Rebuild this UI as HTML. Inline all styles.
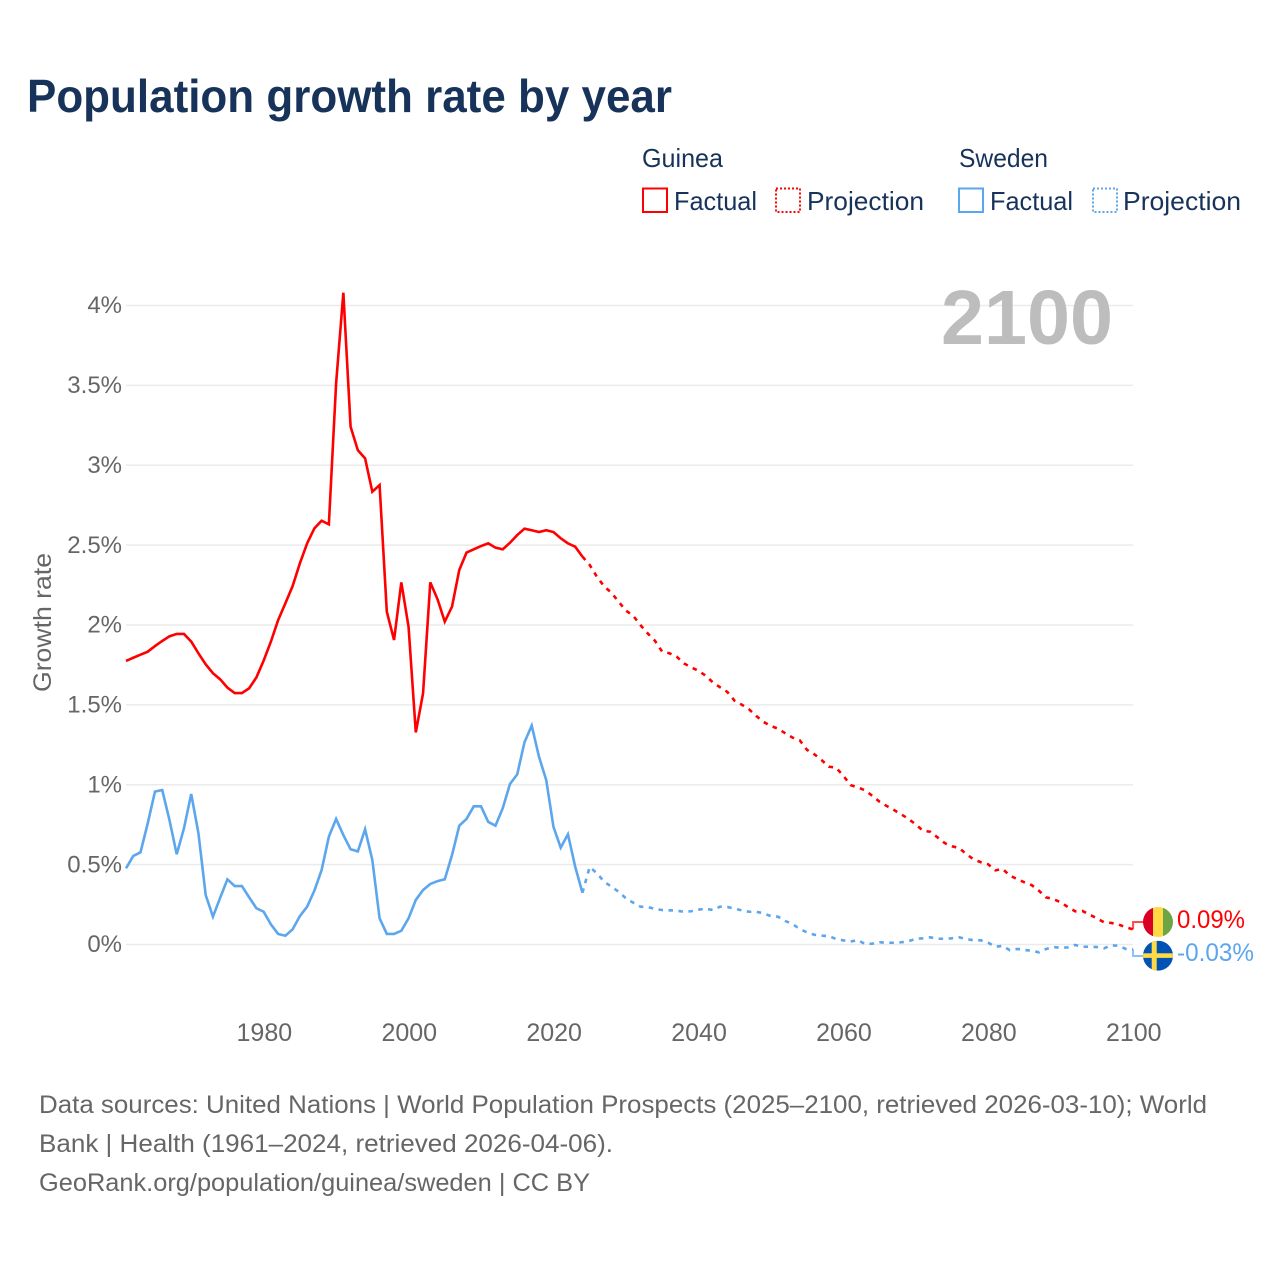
<!DOCTYPE html>
<html lang="en">
<head>
<meta charset="utf-8">
<title>Population growth rate by year</title>
<style>
  html, body { margin: 0; padding: 0; background: #fff; }
  svg { display: block; font-family: "Liberation Sans", sans-serif; }
</style>
</head>
<body>
<svg id="chart" width="1280" height="1280" viewBox="0 0 1280 1280" xmlns="http://www.w3.org/2000/svg">
  <rect width="1280" height="1280" fill="#fff"/>
  <text x="27" y="112" font-size="46" font-weight="700" fill="#18335a" textLength="645" lengthAdjust="spacingAndGlyphs">Population growth rate by year</text>

  <g font-size="26" fill="#18335a">
    <text x="642" y="167" textLength="81" lengthAdjust="spacingAndGlyphs">Guinea</text>
    <text x="959" y="167" textLength="89" lengthAdjust="spacingAndGlyphs">Sweden</text>
    <rect x="643" y="188.5" width="24" height="23.5" fill="none" stroke="#ff0000" stroke-width="2"/>
    <text x="674" y="210" textLength="83" lengthAdjust="spacingAndGlyphs">Factual</text>
    <rect x="776" y="188.5" width="24" height="23.5" fill="none" stroke="#ff0000" stroke-width="2" stroke-dasharray="2 2"/>
    <text x="807" y="210" textLength="117" lengthAdjust="spacingAndGlyphs">Projection</text>
    <rect x="959" y="188.5" width="24" height="23.5" fill="none" stroke="#5ca6ee" stroke-width="2"/>
    <text x="990" y="210" textLength="83" lengthAdjust="spacingAndGlyphs">Factual</text>
    <rect x="1093" y="188.5" width="24" height="23.5" fill="none" stroke="#5ca6ee" stroke-width="2" stroke-dasharray="2 2"/>
    <text x="1123" y="210" textLength="118" lengthAdjust="spacingAndGlyphs">Projection</text>
  </g>

  <g id="grid"></g>
  <g id="y-labels" font-size="24" fill="#666" text-anchor="end"></g>
  <g id="x-labels" font-size="25" fill="#666" text-anchor="middle"></g>

  <text x="941" y="344" font-size="77" font-weight="700" fill="#bdbdbd" textLength="172" lengthAdjust="spacingAndGlyphs">2100</text>
  <text transform="translate(51,692) rotate(-90)" font-size="25" fill="#666" textLength="139" lengthAdjust="spacingAndGlyphs">Growth rate</text>

  <g id="series"></g>

  <g>
    <clipPath id="clip-guinea"><circle cx="1158" cy="922" r="15"/></clipPath>
    <g clip-path="url(#clip-guinea)">
      <rect x="1143" y="907" width="10" height="30" fill="#d80027"/>
      <rect x="1153" y="907" width="10" height="30" fill="#ffda44"/>
      <rect x="1163" y="907" width="10" height="30" fill="#6da544"/>
    </g>
  </g>
  <g>
    <clipPath id="clip-sweden"><circle cx="1158" cy="955.7" r="15"/></clipPath>
    <g clip-path="url(#clip-sweden)">
      <rect x="1143" y="940.7" width="30" height="30" fill="#0052b4"/>
      <rect x="1143" y="953.3" width="30" height="4.6" fill="#ffda44"/>
      <rect x="1151.7" y="940.7" width="5" height="30" fill="#ffda44"/>
    </g>
  </g>
  <text x="1177" y="928" font-size="25" fill="#ff0000" textLength="68" lengthAdjust="spacingAndGlyphs">0.09%</text>
  <text x="1177" y="961" font-size="25" fill="#5ca6ee" textLength="77" lengthAdjust="spacingAndGlyphs">-0.03%</text>

  <g font-size="25" fill="#666">
    <text x="39" y="1113" textLength="1168" lengthAdjust="spacingAndGlyphs">Data sources: United Nations | World Population Prospects (2025–2100, retrieved 2026-03-10); World</text>
    <text x="39" y="1152" textLength="574" lengthAdjust="spacingAndGlyphs">Bank | Health (1961–2024, retrieved 2026-04-06).</text>
    <text x="39" y="1191" textLength="551" lengthAdjust="spacingAndGlyphs">GeoRank.org/population/guinea/sweden | CC BY</text>
  </g>
</svg>

<script>
var factualStartYear = 1961;
var projectionStartYear = 2024;
var yTicks = [0, 0.5, 1, 1.5, 2, 2.5, 3, 3.5, 4];
var yTickLabels = ["0%", "0.5%", "1%", "1.5%", "2%", "2.5%", "3%", "3.5%", "4%"];
var xTicks = [1980, 2000, 2020, 2040, 2060, 2080, 2100];
var xTickLabels = ["1980", "2000", "2020", "2040", "2060", "2080", "2100"];

var guineaFactual = [
  1.775, 1.795, 1.814, 1.833, 1.868, 1.900, 1.929, 1.944, 1.944, 1.896,
  1.823, 1.754, 1.698, 1.660, 1.608, 1.574, 1.574, 1.604, 1.672, 1.777,
  1.896, 2.031, 2.136, 2.244, 2.386, 2.511, 2.605, 2.653, 2.630, 3.513,
  4.080, 3.241, 3.094, 3.043, 2.834, 2.876, 2.083, 1.906, 2.267, 1.989,
  1.328, 1.572, 2.267, 2.161, 2.021, 2.115, 2.344, 2.453, 2.474, 2.494,
  2.511, 2.484, 2.474, 2.515, 2.563, 2.603, 2.593, 2.582, 2.593, 2.582,
  2.543, 2.511, 2.490, 2.428
];
var guineaProjection = [
  2.428, 2.376, 2.302, 2.242, 2.202, 2.146, 2.090, 2.058, 2.000, 1.948, 1.902,
  1.833, 1.823, 1.802, 1.760, 1.735, 1.714, 1.683, 1.641, 1.610, 1.581,
  1.526, 1.501, 1.472, 1.430, 1.393, 1.368, 1.351, 1.322, 1.295, 1.278,
  1.218, 1.191, 1.155, 1.113, 1.107, 1.057, 0.998, 0.984, 0.965, 0.931,
  0.894, 0.867, 0.842, 0.815, 0.786, 0.752, 0.712, 0.706, 0.671, 0.635,
  0.615, 0.604, 0.565, 0.533, 0.515, 0.502, 0.464, 0.473, 0.431, 0.410,
  0.389, 0.372, 0.337, 0.295, 0.285, 0.264, 0.235, 0.208, 0.210, 0.187,
  0.164, 0.139, 0.135, 0.125, 0.108, 0.095
];
var swedenFactual = [
  0.477, 0.554, 0.577, 0.759, 0.957, 0.967, 0.779, 0.565, 0.727, 0.942,
  0.696, 0.310, 0.174, 0.293, 0.408, 0.366, 0.366, 0.295, 0.227, 0.205,
  0.126, 0.066, 0.055, 0.095, 0.178, 0.237, 0.337, 0.466, 0.675, 0.786,
  0.685, 0.596, 0.583, 0.721, 0.529, 0.164, 0.066, 0.066, 0.086, 0.164,
  0.279, 0.341, 0.379, 0.397, 0.408, 0.560, 0.744, 0.786, 0.865, 0.865,
  0.767, 0.744, 0.853, 1.005, 1.065, 1.266, 1.370, 1.176, 1.030, 0.737,
  0.606, 0.690, 0.487, 0.324
];
var swedenProjection = [
  0.324, 0.485, 0.446, 0.393, 0.362, 0.330, 0.289, 0.262, 0.237, 0.235, 0.222,
  0.216, 0.214, 0.212, 0.205, 0.208, 0.218, 0.224, 0.216, 0.237, 0.235,
  0.224, 0.214, 0.205, 0.205, 0.195, 0.178, 0.174, 0.147, 0.128, 0.097,
  0.076, 0.061, 0.055, 0.053, 0.034, 0.026, 0.018, 0.028, 0.003, 0.005,
  0.014, 0.011, 0.011, 0.014, 0.020, 0.036, 0.039, 0.045, 0.036, 0.036,
  0.039, 0.045, 0.034, 0.026, 0.026, 0.011, -0.014, -0.009, -0.036, -0.028,
  -0.034, -0.039, -0.049, -0.028, -0.016, -0.020, -0.018, -0.003, -0.014, -0.014,
  -0.016, -0.024, -0.005, -0.008, -0.028, -0.030
];

var SVGNS = "http://www.w3.org/2000/svg";
function xScale(year) { return 126 + (year - 1961) * 7.245; }
function yScale(value) { return 944.5 - value * 159.75; }
function makeEl(tag, parent) {
  var el = document.createElementNS(SVGNS, tag);
  parent.appendChild(el);
  return el;
}
function linePoints(values, startYear) {
  var pts = [];
  for (var i = 0; i < values.length; i++) {
    pts.push(xScale(startYear + i).toFixed(2) + "," + yScale(values[i]).toFixed(2));
  }
  return pts.join(" ");
}

var gridGroup = document.getElementById("grid");
var yGroup = document.getElementById("y-labels");
var xGroup = document.getElementById("x-labels");
var seriesGroup = document.getElementById("series");

yTicks.forEach(function (tick, i) {
  var gl = makeEl("line", gridGroup);
  
  
  gl.setAttribute("x1", 126);
  gl.setAttribute("x2", 1133);
  gl.setAttribute("y1", yScale(tick));
  gl.setAttribute("y2", yScale(tick));
  gl.setAttribute("stroke", "#ebebeb");
  gl.setAttribute("stroke-width", "1.5");
  var lb = makeEl("text", yGroup);
  
  
  lb.setAttribute("x", 122);
  lb.setAttribute("y", yScale(tick) + 7.7);
  lb.textContent = yTickLabels[i];
});

xTicks.forEach(function (tick, i) {
  var lb = makeEl("text", xGroup);
  
  
  lb.setAttribute("x", xScale(tick) + 0.7);
  lb.setAttribute("y", 1041);
  lb.textContent = xTickLabels[i];
});

function drawSeries(values, startYear, color, dash, name) {
  var pl = makeEl("polyline", seriesGroup);
  
  
  pl.setAttribute("points", linePoints(values, startYear));
  pl.setAttribute("fill", "none");
  pl.setAttribute("stroke", color);
  pl.setAttribute("stroke-width", "2.6");
  pl.setAttribute("stroke-linejoin", "miter");
  if (dash) { pl.setAttribute("stroke-dasharray", dash); }
}
function drawLeader(values, flagY, color, name) {
  var last = values[values.length - 1];
  var pl = makeEl("polyline", seriesGroup);
  
  
  var lx = xScale(2100);
  pl.setAttribute("points", lx + "," + yScale(last) + " " + lx + "," + flagY + " 1144," + flagY);
  pl.setAttribute("fill", "none");
  pl.setAttribute("stroke", color);
  pl.setAttribute("stroke-width", "2");
  pl.setAttribute("opacity", "0.7");
}

drawSeries(swedenFactual, factualStartYear, "#5ca6ee", null, "sweden-factual-line");
drawSeries(swedenProjection, projectionStartYear, "#5ca6ee", "4.5 5.5", "sweden-projection-line");
drawSeries(guineaFactual, factualStartYear, "#ff0000", null, "guinea-factual-line");
drawSeries(guineaProjection, projectionStartYear, "#ff0000", "4.5 5.5", "guinea-projection-line");
drawLeader(guineaProjection, 922, "#ff0000", "guinea-leader-line");
drawLeader(swedenProjection, 956, "#5ca6ee", "sweden-leader-line");
</script>
</body>
</html>
